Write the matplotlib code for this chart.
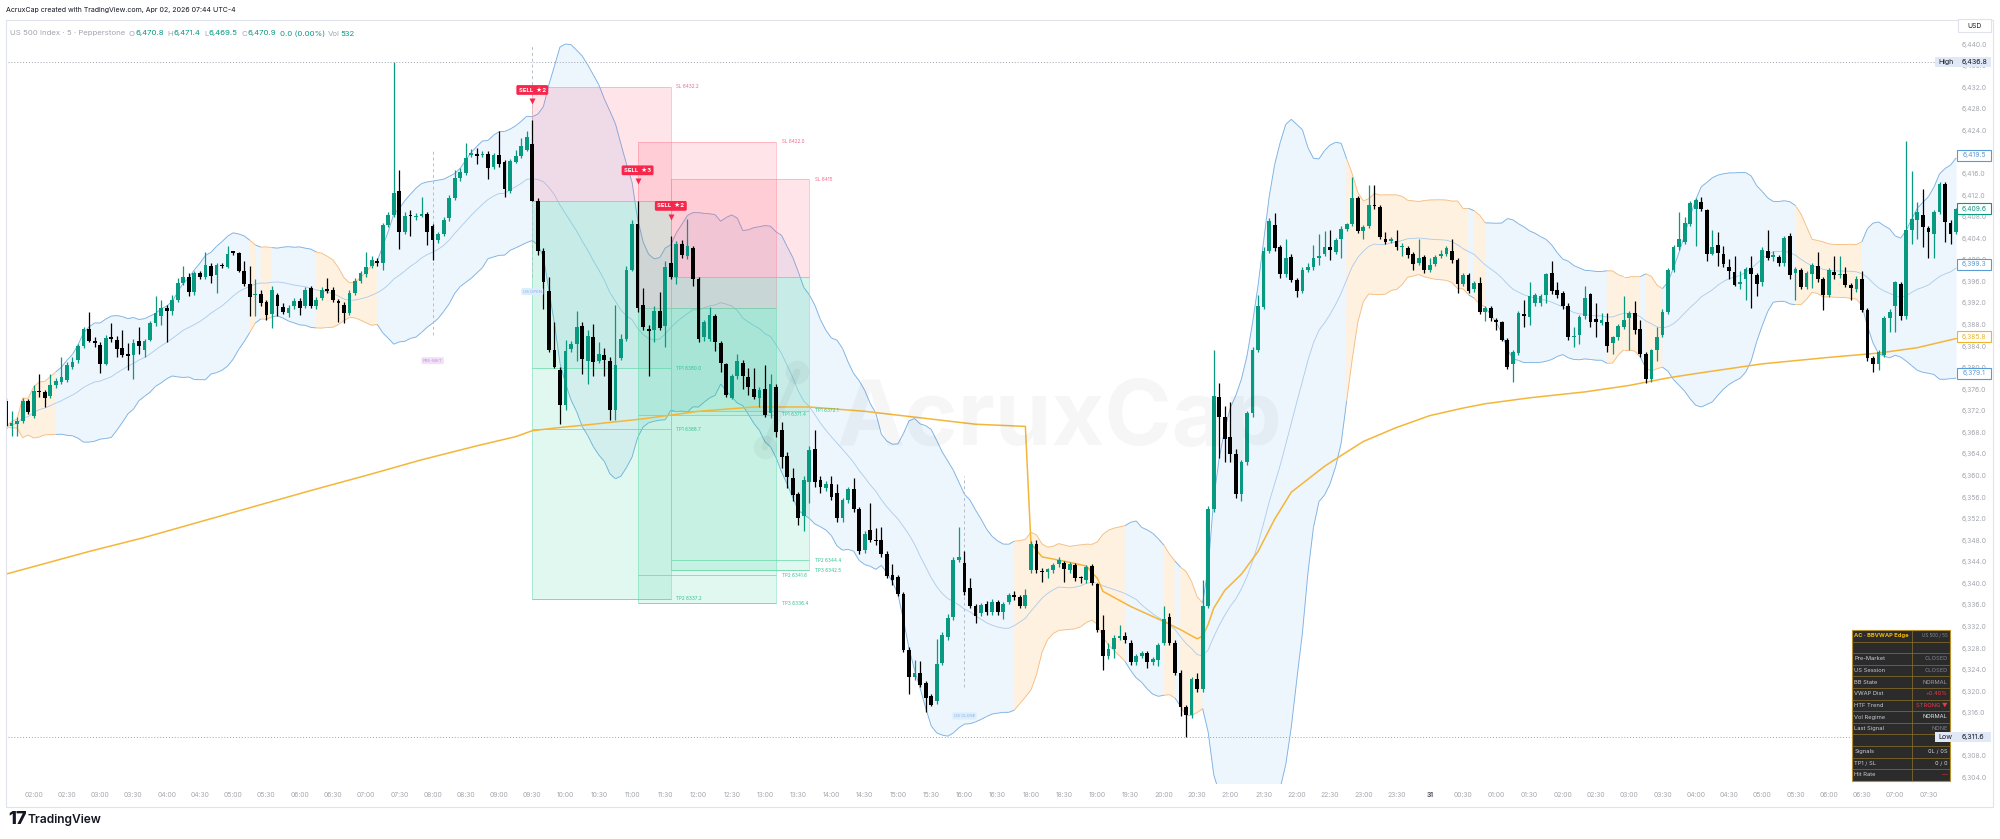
import numpy as np
import pandas as pd
import matplotlib
matplotlib.use("Agg")
import matplotlib.pyplot as plt
from matplotlib.patches import Rectangle
from matplotlib.collections import PolyCollection, LineCollection

plt.rcParams['font.family'] = ['Inter', 'DejaVu Sans']

# ------------------------------------------------------------------ data
FIRST_BAR = -5   # bar index of first candle (02:00 bar = 0), 5-minute bars
opens = [
 6373.9, 6369.2, 6369.6, 6370.2, 6373.9, 6371.1, 6375.8, 6375.6, 6374.9, 6376.8,
 6377.4, 6377.8, 6380.2, 6381.5, 6384.1, 6387.2, 6385.1, 6384.3, 6380.8, 6385.8,
 6385.3, 6383.8, 6382.4, 6382.4, 6385.1, 6383.3, 6385.2, 6388.3, 6389.6, 6391.2,
 6390.6, 6392.7, 6395.8, 6396.9, 6394.1, 6397.6, 6397.0, 6399.0, 6397.2, 6399.2,
 6398.8, 6401.5, 6401.3, 6398.1, 6395.7, 6393.5, 6393.8, 6392.2, 6390.1, 6393.5,
 6391.4, 6390.2, 6391.5, 6392.4, 6391.6, 6394.9, 6391.5, 6393.1, 6394.5, 6394.5,
 6392.4, 6391.8, 6390.3, 6394.0, 6396.2, 6397.4, 6399.0, 6399.9, 6399.6, 6406.6,
 6408.4, 6412.8, 6405.2, 6408.3, 6408.0, 6408.3, 6408.6, 6406.3, 6403.7, 6404.9,
 6407.8, 6411.6, 6415.3, 6416.2, 6419.6, 6419.5, 6419.5, 6419.8, 6417.3, 6419.6,
 6418.2, 6412.9, 6418.3, 6419.3, 6420.5, 6421.6, 6411.1, 6401.8, 6394.3, 6383.4,
 6379.7, 6373.1, 6383.6, 6384.4, 6387.9, 6381.4, 6385.8, 6381.4, 6382.4, 6381.4,
 6372.3, 6381.9, 6385.5, 6398.3, 6406.8, 6391.7, 6387.2, 6387.1, 6390.6, 6387.9,
 6399.5, 6396.9, 6403.0, 6400.8, 6402.2, 6396.5, 6385.7, 6385.5, 6389.6, 6384.6,
 6380.7, 6374.5, 6378.6, 6380.9, 6378.3, 6376.2, 6374.5, 6376.1, 6371.6, 6376.6,
 6368.6, 6363.8, 6359.6, 6356.6, 6352.6, 6358.8, 6365.0, 6359.2, 6357.8, 6358.5,
 6356.8, 6352.2, 6355.5, 6357.6, 6353.9, 6346.2, 6349.9, 6348.0, 6348.2, 6345.6,
 6341.7, 6341.2, 6338.1, 6327.8, 6322.7, 6323.4, 6321.6, 6319.2, 6318.3, 6325.4,
 6330.1, 6333.8, 6344.5, 6343.8, 6339.2, 6335.9, 6334.5, 6336.3, 6334.7, 6336.7,
 6334.7, 6336.7, 6337.9, 6337.5, 6335.9, 6342.6, 6347.4, 6342.3, 6342.1, 6342.5,
 6343.6, 6343.8, 6342.6, 6343.4, 6341.1, 6340.7, 6343.3, 6339.9, 6331.5, 6326.7,
 6327.9, 6329.9, 6330.3, 6329.1, 6325.5, 6326.7, 6327.1, 6325.5, 6325.9, 6329.1,
 6333.9, 6329.1, 6323.5, 6317.2, 6315.6, 6322.4, 6320.4, 6335.9, 6353.8, 6374.7,
 6370.9, 6367.3, 6364.0, 6356.6, 6362.6, 6371.7, 6383.4, 6391.4, 6401.8, 6406.5,
 6402.4, 6397.4, 6400.6, 6396.4, 6394.4, 6398.2, 6398.8, 6400.4, 6401.2, 6402.5,
 6401.6, 6403.9, 6405.9, 6406.7, 6411.5, 6405.4, 6406.4, 6410.2, 6409.9, 6404.0,
 6403.6, 6403.6, 6402.4, 6402.2, 6401.2, 6399.6, 6400.6, 6398.2, 6399.3, 6400.8,
 6401.2, 6401.7, 6400.0, 6395.6, 6397.2, 6394.6, 6395.8, 6390.4, 6391.1, 6389.0,
 6388.5, 6385.3, 6380.7, 6382.8, 6390.1, 6389.5, 6392.1, 6392.1, 6393.5, 6397.6,
 6394.5, 6394.0, 6391.5, 6385.8, 6386.1, 6389.6, 6393.7, 6389.1, 6388.3, 6388.6,
 6384.6, 6385.7, 6387.7, 6389.3, 6390.2, 6387.2, 6382.7, 6378.0, 6383.3, 6386.1,
 6390.5, 6398.3, 6402.4, 6403.4, 6406.8, 6409.6, 6410.9, 6409.3, 6401.2, 6402.9,
 6401.2, 6398.7, 6397.9, 6395.7, 6396.5, 6398.5, 6397.2, 6395.9, 6401.8, 6400.7,
 6400.7, 6399.5, 6404.5, 6397.7, 6398.2, 6395.1, 6397.4, 6398.9, 6396.5, 6393.6,
 6397.9, 6397.2, 6397.4, 6395.5, 6394.6, 6396.6, 6390.8, 6381.8, 6380.8, 6382.4,
 6389.3, 6391.5, 6395.7, 6389.6, 6405.6, 6407.4, 6408.4, 6406.0, 6404.9, 6409.0,
 6414.1, 6407.0, 6405.2]
highs = [
 6374.5, 6372.0, 6371.0, 6374.5, 6374.3, 6376.8, 6378.9, 6376.0, 6378.9, 6378.2,
 6382.0, 6381.2, 6382.1, 6384.5, 6387.6, 6390.5, 6385.8, 6384.8, 6386.2, 6388.3,
 6386.0, 6387.1, 6384.6, 6385.5, 6387.7, 6385.5, 6388.8, 6393.3, 6392.7, 6391.8,
 6393.5, 6396.8, 6399.0, 6397.7, 6398.0, 6398.0, 6401.6, 6399.5, 6399.5, 6399.5,
 6402.7, 6401.8, 6401.6, 6399.9, 6399.0, 6396.5, 6394.5, 6392.7, 6395.3, 6394.0,
 6392.0, 6391.8, 6393.0, 6393.0, 6395.0, 6395.3, 6393.2, 6395.0, 6396.8, 6395.0,
 6392.8, 6392.2, 6394.5, 6396.8, 6398.0, 6401.5, 6400.8, 6400.5, 6407.0, 6409.0,
 6436.8, 6416.8, 6409.0, 6409.3, 6408.8, 6411.8, 6409.0, 6406.8, 6405.3, 6408.0,
 6412.2, 6416.8, 6417.2, 6421.8, 6420.6, 6420.9, 6420.2, 6420.2, 6420.0, 6424.0,
 6418.6, 6418.8, 6420.5, 6422.7, 6424.0, 6426.0, 6411.5, 6402.2, 6397.0, 6388.6,
 6380.2, 6385.2, 6385.0, 6390.6, 6388.5, 6387.0, 6388.2, 6384.8, 6383.8, 6382.0,
 6391.7, 6386.3, 6399.0, 6407.5, 6411.1, 6394.8, 6388.0, 6391.5, 6394.1, 6399.9,
 6404.5, 6403.5, 6403.8, 6407.6, 6402.7, 6397.0, 6389.0, 6391.3, 6390.0, 6385.0,
 6381.0, 6379.0, 6382.6, 6381.5, 6380.1, 6380.1, 6376.5, 6380.5, 6379.0, 6377.0,
 6370.0, 6364.5, 6361.5, 6357.0, 6360.0, 6365.5, 6368.5, 6360.0, 6359.0, 6360.0,
 6358.5, 6356.0, 6358.0, 6359.6, 6354.3, 6349.8, 6354.9, 6350.4, 6350.5, 6346.0,
 6343.6, 6341.7, 6338.5, 6328.2, 6325.8, 6325.6, 6322.0, 6319.5, 6329.8, 6331.0,
 6334.4, 6345.0, 6350.5, 6346.0, 6341.0, 6336.3, 6336.5, 6336.8, 6337.1, 6337.0,
 6336.6, 6338.3, 6338.7, 6338.0, 6339.0, 6348.0, 6348.2, 6343.0, 6343.0, 6343.8,
 6345.0, 6344.2, 6344.0, 6343.8, 6341.5, 6343.5, 6343.6, 6340.2, 6334.3, 6329.1,
 6330.5, 6332.3, 6331.0, 6329.5, 6327.0, 6327.5, 6327.5, 6326.5, 6329.0, 6335.9,
 6334.5, 6329.5, 6324.0, 6317.6, 6322.8, 6323.5, 6340.7, 6354.5, 6383.3, 6377.3,
 6372.9, 6373.7, 6365.0, 6363.0, 6372.0, 6384.0, 6393.6, 6402.5, 6407.8, 6408.7,
 6402.8, 6403.9, 6401.2, 6396.8, 6398.7, 6399.5, 6402.8, 6404.8, 6405.4, 6405.6,
 6404.2, 6406.3, 6407.0, 6415.5, 6411.9, 6406.6, 6413.9, 6413.9, 6410.3, 6405.2,
 6404.4, 6405.6, 6403.2, 6402.6, 6401.6, 6403.9, 6401.0, 6400.4, 6401.0, 6402.0,
 6402.6, 6403.9, 6400.4, 6397.6, 6397.6, 6396.2, 6397.0, 6391.5, 6391.5, 6389.3,
 6388.8, 6385.6, 6383.4, 6390.6, 6392.7, 6395.9, 6394.0, 6393.8, 6397.7, 6399.9,
 6395.9, 6394.4, 6392.0, 6387.7, 6389.9, 6395.2, 6394.0, 6392.1, 6390.2, 6390.2,
 6386.0, 6388.2, 6393.3, 6390.6, 6392.4, 6388.9, 6383.0, 6383.6, 6387.7, 6390.9,
 6398.6, 6402.8, 6409.0, 6408.0, 6411.0, 6411.6, 6411.8, 6409.6, 6405.6, 6405.2,
 6402.7, 6400.2, 6400.8, 6398.0, 6398.8, 6400.8, 6397.6, 6402.4, 6405.6, 6401.8,
 6401.0, 6404.5, 6405.1, 6398.8, 6398.6, 6398.1, 6399.5, 6401.5, 6397.0, 6398.6,
 6400.8, 6400.8, 6398.7, 6395.8, 6397.1, 6398.0, 6391.2, 6382.2, 6383.4, 6389.7,
 6390.9, 6396.2, 6396.0, 6422.2, 6416.5, 6410.9, 6413.3, 6406.4, 6409.4, 6414.5,
 6414.5, 6407.4, 6409.8]
lows = [
 6368.8, 6367.5, 6367.4, 6369.8, 6371.5, 6370.8, 6374.6, 6372.8, 6374.5, 6376.4,
 6377.0, 6377.5, 6379.8, 6381.0, 6383.8, 6384.8, 6384.0, 6379.1, 6380.5, 6384.8,
 6382.0, 6382.0, 6379.6, 6378.0, 6382.7, 6382.0, 6385.0, 6387.8, 6388.0, 6384.8,
 6389.8, 6392.3, 6395.5, 6393.4, 6393.5, 6396.6, 6396.5, 6395.8, 6394.0, 6398.5,
 6398.5, 6401.0, 6397.8, 6395.3, 6389.6, 6389.6, 6391.5, 6389.0, 6387.4, 6389.6,
 6390.0, 6389.5, 6391.0, 6389.9, 6391.2, 6391.2, 6391.0, 6392.7, 6394.0, 6392.2,
 6388.5, 6388.3, 6389.8, 6393.5, 6395.8, 6397.0, 6398.5, 6399.0, 6398.3, 6406.2,
 6408.0, 6402.1, 6404.8, 6404.6, 6407.5, 6408.0, 6402.9, 6400.0, 6403.2, 6404.5,
 6407.3, 6411.2, 6414.8, 6415.8, 6419.2, 6417.8, 6419.2, 6415.0, 6416.9, 6417.4,
 6411.8, 6412.5, 6418.0, 6419.0, 6420.2, 6411.0, 6401.0, 6391.0, 6383.0, 6380.0,
 6369.6, 6372.3, 6383.0, 6381.3, 6379.0, 6377.0, 6378.6, 6381.0, 6378.6, 6370.4,
 6370.4, 6381.5, 6385.0, 6398.0, 6390.5, 6387.0, 6378.6, 6384.8, 6387.0, 6383.9,
 6396.5, 6395.6, 6400.5, 6400.3, 6395.2, 6384.8, 6385.0, 6385.0, 6383.2, 6379.3,
 6374.7, 6374.3, 6378.0, 6376.2, 6375.1, 6374.2, 6372.8, 6371.0, 6370.8, 6367.3,
 6361.5, 6357.8, 6355.3, 6351.0, 6349.8, 6355.0, 6358.0, 6356.8, 6357.2, 6355.5,
 6351.4, 6351.5, 6355.0, 6353.3, 6345.6, 6345.7, 6347.8, 6347.2, 6345.0, 6341.0,
 6339.8, 6337.7, 6327.3, 6319.6, 6322.2, 6320.8, 6316.2, 6317.3, 6317.7, 6325.0,
 6329.6, 6333.3, 6344.0, 6338.0, 6335.5, 6332.7, 6334.0, 6334.2, 6334.3, 6334.3,
 6333.5, 6336.3, 6337.0, 6335.5, 6335.5, 6342.0, 6342.0, 6340.3, 6341.0, 6342.0,
 6343.2, 6340.3, 6342.0, 6340.5, 6340.1, 6340.2, 6339.7, 6331.0, 6324.0, 6326.0,
 6326.3, 6329.5, 6329.0, 6325.0, 6325.0, 6326.3, 6324.3, 6325.0, 6324.7, 6328.7,
 6328.7, 6323.0, 6315.5, 6311.6, 6315.2, 6320.0, 6320.0, 6335.5, 6353.3, 6363.4,
 6362.6, 6362.6, 6356.0, 6355.4, 6362.0, 6371.0, 6383.0, 6391.0, 6401.4, 6401.8,
 6396.8, 6396.9, 6396.0, 6393.2, 6394.0, 6397.8, 6398.3, 6399.2, 6400.8, 6400.0,
 6401.2, 6400.4, 6405.5, 6406.3, 6405.0, 6404.0, 6406.0, 6409.6, 6404.0, 6403.0,
 6403.2, 6402.0, 6400.8, 6400.4, 6398.2, 6399.2, 6397.6, 6397.8, 6399.0, 6400.4,
 6400.8, 6399.6, 6394.0, 6395.2, 6394.0, 6394.2, 6390.0, 6388.8, 6388.8, 6387.1,
 6385.0, 6379.8, 6377.4, 6382.4, 6387.7, 6388.0, 6391.5, 6391.5, 6392.0, 6393.8,
 6393.0, 6391.0, 6385.3, 6384.0, 6384.5, 6389.2, 6387.7, 6385.8, 6388.0, 6383.0,
 6382.7, 6385.3, 6387.3, 6383.3, 6386.4, 6382.0, 6377.2, 6377.4, 6381.4, 6385.7,
 6390.0, 6397.9, 6402.0, 6403.0, 6406.4, 6402.7, 6409.2, 6399.9, 6400.9, 6399.0,
 6398.7, 6396.5, 6395.2, 6394.6, 6392.7, 6391.2, 6393.3, 6395.2, 6400.0, 6399.9,
 6399.0, 6399.0, 6396.6, 6392.7, 6394.6, 6394.6, 6394.9, 6396.0, 6390.8, 6393.2,
 6396.5, 6396.8, 6395.0, 6392.7, 6394.2, 6390.4, 6381.4, 6379.2, 6379.6, 6382.0,
 6386.7, 6386.7, 6389.0, 6389.2, 6403.1, 6404.0, 6402.4, 6400.5, 6400.5, 6408.6,
 6403.4, 6403.1, 6404.8]
closes = [
 6369.2, 6369.8, 6370.2, 6373.9, 6371.9, 6375.8, 6375.5, 6374.4, 6376.8, 6377.7,
 6378.4, 6380.5, 6381.1, 6384.1, 6387.2, 6385.1, 6384.6, 6380.8, 6385.6, 6385.4,
 6383.6, 6382.4, 6382.3, 6384.7, 6384.1, 6385.1, 6388.3, 6390.3, 6391.2, 6390.6,
 6392.7, 6395.8, 6396.9, 6394.2, 6397.7, 6397.0, 6399.1, 6397.1, 6399.1, 6398.9,
 6401.2, 6401.4, 6398.1, 6395.7, 6393.2, 6393.7, 6392.0, 6389.9, 6394.5, 6391.5,
 6390.5, 6391.1, 6392.4, 6391.2, 6394.5, 6391.5, 6392.7, 6394.5, 6394.4, 6392.6,
 6392.1, 6390.3, 6394.0, 6396.2, 6397.6, 6398.7, 6400.1, 6399.5, 6406.5, 6408.5,
 6412.4, 6405.2, 6408.3, 6408.2, 6408.3, 6408.5, 6405.2, 6403.7, 6404.9, 6407.4,
 6411.6, 6415.3, 6416.4, 6419.0, 6419.8, 6419.4, 6419.8, 6417.1, 6419.5, 6417.9,
 6413.2, 6418.4, 6419.3, 6421.2, 6422.8, 6411.1, 6401.8, 6396.0, 6383.4, 6380.3,
 6373.1, 6383.2, 6384.4, 6387.7, 6381.7, 6385.9, 6381.1, 6382.6, 6381.5, 6372.3,
 6380.5, 6385.4, 6398.3, 6406.8, 6391.1, 6387.7, 6386.9, 6390.6, 6387.5, 6398.7,
 6396.9, 6403.0, 6401.0, 6402.6, 6396.5, 6385.5, 6388.5, 6389.8, 6384.8, 6380.9,
 6375.1, 6378.6, 6381.3, 6378.6, 6376.5, 6374.7, 6375.9, 6371.4, 6377.0, 6368.2,
 6363.6, 6359.9, 6356.5, 6352.2, 6359.2, 6364.8, 6358.8, 6358.0, 6358.6, 6356.1,
 6352.2, 6355.5, 6357.6, 6353.8, 6346.0, 6349.3, 6348.2, 6347.9, 6345.6, 6341.5,
 6340.7, 6338.1, 6327.8, 6322.7, 6323.5, 6321.2, 6318.9, 6317.6, 6325.1, 6330.5,
 6333.6, 6344.5, 6345.0, 6338.4, 6335.9, 6334.0, 6336.1, 6334.7, 6336.7, 6334.7,
 6336.3, 6337.9, 6337.5, 6335.9, 6338.0, 6347.4, 6342.5, 6342.1, 6342.7, 6343.4,
 6344.4, 6342.8, 6343.6, 6341.1, 6341.0, 6343.1, 6340.1, 6331.5, 6326.7, 6327.9,
 6329.9, 6330.3, 6329.5, 6325.5, 6326.7, 6327.1, 6325.5, 6326.1, 6328.7, 6333.5,
 6329.1, 6323.5, 6317.2, 6315.6, 6322.4, 6320.4, 6335.9, 6353.8, 6374.9, 6370.9,
 6366.9, 6364.1, 6356.6, 6362.6, 6371.7, 6383.4, 6391.6, 6401.8, 6407.3, 6402.2,
 6397.4, 6400.4, 6396.4, 6394.4, 6398.2, 6398.8, 6400.4, 6400.8, 6402.5, 6402.0,
 6403.8, 6405.9, 6406.7, 6411.5, 6405.4, 6406.2, 6410.2, 6410.1, 6404.4, 6403.4,
 6404.0, 6402.4, 6402.5, 6400.9, 6399.3, 6400.4, 6398.2, 6399.2, 6400.6, 6401.2,
 6402.2, 6400.0, 6395.6, 6397.2, 6394.4, 6395.8, 6390.4, 6391.1, 6389.3, 6388.5,
 6385.3, 6380.2, 6383.0, 6390.2, 6389.6, 6393.3, 6393.5, 6393.4, 6397.4, 6394.3,
 6393.5, 6391.5, 6385.8, 6385.9, 6389.5, 6393.0, 6388.6, 6388.5, 6389.0, 6384.1,
 6385.7, 6387.8, 6389.0, 6390.2, 6387.1, 6382.6, 6378.0, 6383.3, 6385.8, 6390.5,
 6398.3, 6402.4, 6403.9, 6407.0, 6410.6, 6411.2, 6409.6, 6401.2, 6402.4, 6401.4,
 6399.3, 6398.0, 6395.5, 6395.9, 6398.4, 6397.4, 6395.7, 6402.0, 6400.5, 6401.0,
 6399.5, 6404.1, 6397.2, 6398.4, 6395.1, 6397.7, 6399.1, 6396.5, 6393.6, 6398.2,
 6397.2, 6397.4, 6395.4, 6394.9, 6396.5, 6390.8, 6381.8, 6380.8, 6383.0, 6389.3,
 6390.5, 6395.9, 6389.6, 6405.6, 6407.7, 6409.0, 6406.2, 6405.2, 6409.0, 6414.1,
 6407.1, 6404.9, 6409.6]

time_labels = [
 "02:00", "02:30", "03:00", "03:30", "04:00", "04:30", "05:00", "05:30", "06:00", "06:30",
 "07:00", "07:30", "08:00", "08:30", "09:00", "09:30", "10:00", "10:30", "11:00", "11:30",
 "12:00", "12:30", "13:00", "13:30", "14:00", "14:30", "15:00", "15:30", "16:00", "16:30",
 "18:00", "18:30", "19:00", "19:30", "20:00", "20:30", "21:00", "21:30", "22:00", "22:30",
 "23:00", "23:30", "31", "00:30", "01:00", "01:30", "02:00", "02:30", "03:00", "03:30",
 "04:00", "04:30", "05:00", "05:30", "06:00", "06:30", "07:00", "07:30"]
BARS_PER_LABEL = 6
price_ticks = list(range(6304, 6441, 4))

vwap_bars = [-5, 0, 10, 20, 30, 40, 50, 60, 70, 80, 87, 90, 95, 100, 110, 120, 130, 140, 150, 160,
             170, 179, 180, 182, 186, 190, 192, 193, 198, 204, 207, 210, 211, 212, 213, 215, 218, 221, 224, 227,
             233, 236, 240, 246, 252, 258, 262, 270, 280, 288, 295, 300, 312, 324, 333, 340, 347]
vwap_vals = [6341.8, 6343.2, 6346.0, 6348.6, 6351.5, 6354.4, 6357.3, 6360.1, 6363.0, 6365.6,
             6367.3, 6368.4, 6369.0, 6369.5, 6370.6, 6372.0, 6372.8, 6372.8, 6372.0, 6370.8,
             6369.6, 6369.2, 6347.5, 6345.0, 6344.2, 6343.3, 6341.0, 6338.6, 6335.8, 6333.0,
             6331.5, 6329.8, 6330.3, 6332.5, 6335.5, 6338.8, 6341.8, 6346.0, 6352.0, 6357.0,
             6361.8, 6363.8, 6366.4, 6369.0, 6371.2, 6372.6, 6373.4, 6374.5, 6375.6, 6376.8,
             6378.2, 6379.0, 6380.8, 6382.0, 6382.8, 6383.8, 6385.5]

squeeze_ranges = [(-5, 4), (40, 40), (42, 43), (52, 62), (178, 197), (205, 206), (208, 211),
                  (238, 259), (261, 262), (285, 290), (292, 294), (319, 330)]

trade_bars = [90, 109, 115]
trade_ends = [115, 134, 140]
trade_entry = [6411.1, 6391.1, 6396.9]
trade_sl = [6432.2, 6422.0, 6415.0]
trade_sl_text = ["SL 6432.2", "SL 6422.0", "SL 6415"]
trade_tps = [[6380.0, 6368.7, 6337.2], [6371.4, 6341.6, 6336.4], [6372.1, 6344.4, 6342.5]]
trade_tp_text = [["TP1 6380.0", "TP1 6368.7", "TP2 6337.2"],
                 ["TP1 6371.4", "TP2 6341.6", "TP3 6336.4"],
                 ["TP1 6372.1", "TP2 6344.4", "TP3 6342.5"]]
trade_tags = ["SELL  \u26052", "SELL  \u26053", "SELL  \u26052"]

session_bars = [72, 90, 168]
session_names = ["PRE-MKT", "US OPEN", "US CLOSE"]
session_top = [6420.3, 6440.0, 6360.0]
session_bottom = [6386.2, 6397.0, 6320.8]
session_label_y = [6381.4, 6394.2, 6315.5]

day_high, day_low = 6436.8, 6311.6
last_vals = [6419.5, 6409.6, 6399.3, 6385.8, 6379.1]
last_texts = ["6,419.5", "6,409.6", "6,399.3", "6,385.8", "6,379.1"]

table_header = ("AC \u00b7 BBVWAP Edge", "US 500 / 5S")
table_keys = ["", "Pre-Market", "US Session", "BB State", "VWAP Dist", "HTF Trend",
              "Vol Regime", "Last Signal", "", "Signals", "TP1 / SL", "Hit Rate"]
table_vals = ["", "CLOSED", "CLOSED", "NORMAL", "+0.40%", "STRONG \u25bc",
              "NORMAL", "NONE", "", "0L / 0S", "0 / 0", "\u2014"]

# ------------------------------------------------------------------ colours
UP, DOWN = '#089981', '#000000'
BLUE_FILL, ORANGE_FILL = '#EDF5FD', '#FFF1E0'
BLUE_LINE, ORANGE_LINE = '#7DB2E3', '#F5BE82'
BASIS = '#A9CBEC'
VWAP_C = '#F4B63A'
AXIS_TXT = '#A3A6AE'

# ------------------------------------------------------------------ figure
W, H = 2000, 839
fig = plt.figure(figsize=(W / 100, H / 100), dpi=100)
fig.patch.set_facecolor('white')
AXL, AXR, AXT, AXB = 6, 1960, 20, 784
ax = fig.add_axes([AXL / W, 1 - AXB / H, (AXR - AXL) / W, (AXB - AXT) / H])
ax.set_xlim(-5.0, 347.7)
ax.set_ylim(6302.87, 6444.58)
ax.axis('off')

ov = fig.add_axes([0, 0, 1, 1])
ov.set_xlim(0, W)
ov.set_ylim(H, 0)
ov.axis('off')

R = fig.canvas.get_renderer()


def P(k, p):
    X, Y = ax.transData.transform((k, p))
    return X, H - Y


def fs_for(s, width_px, **kw):
    t = ov.text(0, 0, s, fontsize=10, **kw)
    w = t.get_window_extent(R).width
    t.remove()
    return 10.0 * width_px / w


o = np.array(opens); h = np.array(highs); l = np.array(lows); c = np.array(closes)
h = np.maximum(h, np.maximum(o, c)); l = np.minimum(l, np.minimum(o, c))
n = len(c)
bx = np.arange(n) + FIRST_BAR

# ------------------------------------------------------------------ Bollinger bands (20, 2)
cs = pd.Series(c)
basis = cs.rolling(20, min_periods=1).mean().values
dev = cs.rolling(20, min_periods=1).std(ddof=0).values
upper = basis + 2 * dev
lower = basis - 2 * dev
sq = np.zeros(n, bool)
for a, b in squeeze_ranges:
    sq[(bx >= a) & (bx <= b)] = True

polys, pcols = [], []
for i in range(1, n):
    polys.append([(bx[i - 1], upper[i - 1]), (bx[i], upper[i]), (bx[i], lower[i]), (bx[i - 1], lower[i - 1])])
    pcols.append(ORANGE_FILL if sq[i] else BLUE_FILL)
ax.add_collection(PolyCollection(polys, facecolors=pcols, edgecolors=pcols, linewidths=0.4, zorder=1))
for arr in (upper, lower):
    segs = [[(bx[i - 1], arr[i - 1]), (bx[i], arr[i])] for i in range(1, n)]
    lcols = [ORANGE_LINE if sq[i] else BLUE_LINE for i in range(1, n)]
    ax.add_collection(LineCollection(segs, colors=lcols, linewidths=0.65, zorder=2))
ax.plot(bx, basis, color=BASIS, lw=0.6, zorder=2)

# ------------------------------------------------------------------ trade boxes
fs_tiny = fs_for("SL 6432.2", 23)
for i in range(len(trade_bars)):
    x0, x1 = trade_bars[i], trade_ends[i]
    e, sl, tps = trade_entry[i], trade_sl[i], trade_tps[i]
    ax.add_patch(Rectangle((x0, e), x1 - x0, sl - e, fc='#FF4D6D', alpha=0.15, ec='none', zorder=2.5))
    ax.add_patch(Rectangle((x0, e), x1 - x0, sl - e, fill=False, ec='#FF7A93', alpha=0.5, lw=0.6, zorder=2.5))
    ax.add_patch(Rectangle((x0, tps[-1]), x1 - x0, e - tps[-1], fc='#1DCB8C', alpha=0.13, ec='none', zorder=2.5))
    ax.add_patch(Rectangle((x0, tps[0]), x1 - x0, e - tps[0], fc='#1DCB8C', alpha=0.06, ec='none', zorder=2.5))
    ax.add_patch(Rectangle((x0, tps[-1]), x1 - x0, e - tps[-1], fill=False, ec='#6EDDB3', alpha=0.6, lw=0.6, zorder=2.5))
    ax.hlines(tps, x0, x1, colors='#5FD6A6', lw=0.6, alpha=0.8, zorder=2.6)
    ax.text(x1 + 1.0, sl, trade_sl_text[i], fontsize=fs_tiny, color='#F2668B', va='center', ha='left', zorder=7)
    for tp, tt in zip(tps, trade_tp_text[i]):
        ax.text(x1 + 1.0, tp, tt, fontsize=fs_tiny, color='#2EC48C', va='center', ha='left', zorder=7)

# ------------------------------------------------------------------ session markers
sess_style = {"PRE-MKT": ('#F1E0F8', '#C792DC'), "US OPEN": ('#DDEDFC', '#79B1E4'), "US CLOSE": ('#DDEDFC', '#79B1E4')}
fs_sess = fs_for("US OPEN", 19)
for k, nm, t, btm, ly in zip(session_bars, session_names, session_top, session_bottom, session_label_y):
    ax.vlines(k, btm, t, colors='#B5BDCB', linestyles=(0, (3, 3)), lw=0.7, zorder=2.6)
    fc, tc = sess_style[nm]
    ax.text(k, ly, nm, fontsize=fs_sess, color=tc, ha='center', va='center', zorder=7,
            bbox=dict(boxstyle='round,pad=0.35,rounding_size=0.3', fc=fc, ec='none'))

# ------------------------------------------------------------------ VWAP
ax.plot(vwap_bars, vwap_vals, color=VWAP_C, lw=1.1, zorder=4, solid_joinstyle='round')

# ------------------------------------------------------------------ candles
up = c >= o
cols = np.where(up, UP, DOWN)
ax.vlines(bx, l, h, colors=cols, lw=0.9, zorder=5)
body_lo = np.minimum(o, c)
body_h = np.maximum(np.abs(c - o), 0.25)
ax.bar(bx, body_h, bottom=body_lo, width=0.68, color=cols, linewidth=0, zorder=6)

# ------------------------------------------------------------------ SELL tags
fs_sell = fs_for(trade_tags[0], 27, fontweight='bold')
for k, tag in zip(trade_bars, trade_tags):
    hi = h[k - FIRST_BAR]
    yc = hi + 5.6
    ax.text(k, yc, tag, fontsize=fs_sell, color='white', fontweight='bold', ha='center', va='center', zorder=9,
            bbox=dict(boxstyle='round,pad=0.4,rounding_size=0.25', fc='#F7264B', ec='none'))
    ax.plot([k], [yc - 2.05], marker='v', ms=4.5, color='#F7264B', mec='none', zorder=9)

# ------------------------------------------------------------------ watermark + logo
fs_wm = fs_for("AcruxCap", 446, fontweight='bold')
ov.text(1060, 445, "AcruxCap", fontsize=fs_wm, fontweight='bold', color='black', alpha=0.035,
        ha='center', va='baseline', zorder=3)
ov.plot([765, 797], [447, 372], color='black', alpha=0.04, lw=5, solid_capstyle='round')
ov.plot([765, 797], [447, 372], 'o', ms=17, color='black', alpha=0.04, mec='none')

# ------------------------------------------------------------------ frame
ov.add_patch(Rectangle((6, 20), 1987, 787, fill=False, ec='#E0E3EB', lw=0.8))

# ------------------------------------------------------------------ time axis
fs_time = fs_for("02:00", 19)
for j, lab in enumerate(time_labels):
    X, _ = P(j * BARS_PER_LABEL, 6400)
    ov.text(X, 795, lab, fontsize=fs_time, color=('#50535E' if lab == '31' else AXIS_TXT),
            fontweight=('bold' if lab == '31' else 'normal'), ha='center', va='center')

# ------------------------------------------------------------------ price axis
fs_ax = fs_for("6,440.0", 25.5)
for p in price_ticks:
    _, Y = P(0, p)
    ov.text(1962, Y, f"{p:,.1f}", fontsize=fs_ax, color=AXIS_TXT, ha='left', va='center')

# dotted high / low lines
for v in (day_high, day_low):
    _, Y = P(0, v)
    ov.hlines(Y, 8, 1935, colors='#9DA2AD', linestyles=(0, (1, 2)), lw=0.7)

# table
tx0, tx1, tx2 = 1851.7, 1912.3, 1950.0
ty0, rh = 630.0, 11.6
nrows = 1 + len(table_keys)
ov.add_patch(Rectangle((tx0, ty0), tx2 - tx0, nrows * rh, fc='#2B2B2B', ec='#B8912F', lw=0.8, zorder=20))
for r in range(1, nrows):
    ov.hlines(ty0 + r * rh, tx0, tx2, colors='#8E7227', lw=0.5, zorder=21)
ov.vlines(tx1, ty0, ty0 + nrows * rh, colors='#8E7227', lw=0.5, zorder=21)
fs_tab = fs_for("Pre-Market", 31)
ov.text(tx0 + 2.5, ty0 + rh / 2, table_header[0], fontsize=fs_tab, color='#F0B90B', fontweight='bold',
        ha='left', va='center', zorder=22)
ov.text(tx2 - 2.5, ty0 + rh / 2, table_header[1], fontsize=fs_tab * 0.8, color='#8A8D96',
        ha='right', va='center', zorder=22)
val_colors = ['#8A8D96', '#7E818A', '#7E818A', '#9A9DA5', '#F23645', '#F23645', '#E0E3EB', '#7E818A',
              '#8A8D96', '#D1D4DC', '#D1D4DC', '#F23645']
for r, (kk, vv) in enumerate(zip(table_keys, table_vals)):
    yc = ty0 + (r + 1.5) * rh
    ov.text(tx0 + 2.5, yc, kk, fontsize=fs_tab, color='#C9CCD3', ha='left', va='center', zorder=22)
    ov.text(tx2 - 2.5, yc, vv, fontsize=fs_tab, color=val_colors[r], ha='right', va='center', zorder=22)

# High / Low labels
for name, v in (("High", day_high), ("Low", day_low)):
    _, Y = P(0, v)
    ov.add_patch(Rectangle((1935, Y - 5.2), 56, 10.4, fc='#E1E9F6', ec='none', zorder=23))
    ov.text(1938, Y, name, fontsize=fs_ax * 1.05, color='#131722', ha='left', va='center', zorder=24)
    ov.text(1962, Y, f"{v:,.1f}", fontsize=fs_ax * 1.05, color='#131722', ha='left', va='center', zorder=24)

# last-value labels
lv_colors = ['#5B9BD5', '#089981', '#5B9BD5', '#F0B429', '#5B9BD5']
for v, t, col in zip(last_vals, last_texts, lv_colors):
    _, Y = P(0, v)
    ov.add_patch(Rectangle((1957, Y - 5.5), 34, 11, fc='white', ec=col, lw=0.8, zorder=23))
    ov.text(1974, Y, t, fontsize=fs_ax, color=col, ha='center', va='center', zorder=24)

# USD box
ov.add_patch(Rectangle((1958, 19), 33, 13, fc='white', ec='#E0E3EB', lw=0.8, zorder=23))
ov.text(1974.5, 25.5, "USD", fontsize=fs_ax, color='#131722', ha='center', va='center', zorder=24)

# ------------------------------------------------------------------ header texts
fs_h1 = fs_for("AcruxCap created with TradingView.com, Apr 02, 2026 07:44 UTC-4", 231)
ov.text(6, 10, "AcruxCap created with TradingView.com, Apr 02, 2026 07:44 UTC-4", fontsize=fs_h1,
        color='#131722', ha='left', va='center')

GRAY, TEAL = '#A3A6AE', '#089981'
fs_h2 = fs_for("US 500 Index \u00b7 5 \u00b7 Pepperstone", 116)
parts = [("US 500 Index \u00b7 5 \u00b7 Pepperstone", GRAY, 3.5), ("O", GRAY, 0.5), ("6,470.8", TEAL, 3.5),
         ("H", GRAY, 0.5), ("6,471.4", TEAL, 3.5), ("L", GRAY, 0.5), ("6,469.5", TEAL, 3.5),
         ("C", GRAY, 0.5), ("6,470.9", TEAL, 3.5), ("0.0 (0.00%)", TEAL, 3.5), ("Vol", GRAY, 0.5),
         ("532", TEAL, 0)]
xcur = 10
for s, col, gap in parts:
    t = ov.text(xcur, 33.5, s, fontsize=fs_h2, color=col, ha='left', va='center')
    xcur += t.get_window_extent(R).width + gap

# ------------------------------------------------------------------ TradingView logo
ov.text(8, 820, "17", fontsize=13, fontweight='heavy', color='#131722', ha='left', va='center')
fs_tv = fs_for("TradingView", 74, fontweight='semibold')
ov.text(27, 820, "TradingView", fontsize=fs_tv, fontweight='semibold', color='#131722', ha='left', va='center')

fig.savefig("out.png", dpi=100, facecolor='white')
